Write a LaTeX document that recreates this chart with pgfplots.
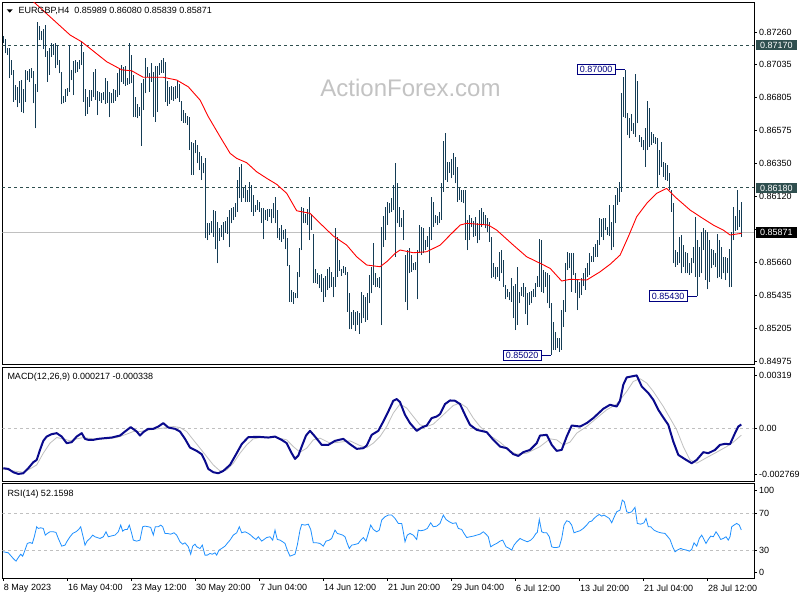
\documentclass[border=0pt]{standalone}
\usepackage{pgfplots}
\pgfplotsset{compat=1.18}
\usepackage{fontspec}
\setmainfont{Liberation Sans}
\definecolor{barc}{RGB}{20,60,85}
\definecolor{slate}{RGB}{47,79,79}
\definecolor{navyc}{RGB}{0,0,128}
\definecolor{macdc}{RGB}{10,10,140}
\definecolor{silverc}{RGB}{192,192,192}
\definecolor{rsic}{RGB}{30,144,255}
\definecolor{wmc}{RGB}{195,195,195}
\pgfplotsset{
  panel/.style={
    scale only axis, width=751.7pt,
    xmin=-0.5, xmax=375.35,
    axis line style={line width=1pt, black},
    tick align=outside, major tick length=2.5pt,
    tick style={black, line width=0.8pt},
    ytick pos=right, yticklabel pos=right,
    yticklabel style={anchor=west, inner sep=0pt, xshift=2.5pt},
    tick label style={font=\fontsize{9}{10}\selectfont, text=black},
    scaled y ticks=false,
    clip mode=individual,
  },
}
\tikzset{
  boxlab/.style={draw=navyc, text=navyc, fill=white, line width=0.8pt, inner xsep=2.5pt, inner ysep=2pt, text height=6.5pt, text depth=0pt, font=\fontsize{9}{10}\selectfont},
  hilab/.style={text=white, anchor=west, xshift=2pt, inner xsep=4pt, inner ysep=2pt, text height=6.5pt, text depth=0pt, font=\fontsize{9}{10}\selectfont},
}
\begin{document}
\fontsize{9}{10}\selectfont
\begin{tikzpicture}
\path[use as bounding box] (0,0) rectangle (800pt,600pt);
\fill[white] (0,0) rectangle (800pt,600pt);
\node[anchor=base, text=wmc, font=\fontsize{24}{24}\selectfont, inner sep=0pt] at (410.5pt,503pt) {ActionForex.com};

% ---------------- main price panel ----------------
\begin{axis}[panel, at={(2.3pt,235pt)}, anchor=south west, height=362pt,
  ymin=0.84952, ymax=0.87461, xtick=\empty,
  ytick={0.84975,0.85205,0.85435,0.8566,0.8589,0.8612,0.8635,0.86575,0.86805,0.87035,0.8726},
  yticklabels={0.84975,0.85205,0.85435,0.85660,{},0.86120,0.86350,0.86575,0.86805,0.87035,0.87260}]
\addplot[slate, dash pattern=on 3pt off 3pt, line width=0.8pt] coordinates {(-0.5,0.8717) (375.35,0.8717)};
\addplot[slate, dash pattern=on 3pt off 3pt, line width=0.8pt] coordinates {(-0.5,0.8618) (375.35,0.8618)};
\addplot[silverc, line width=0.8pt] coordinates {(-0.5,0.85871) (375.35,0.85871)};
\addplot[draw=none, mark=none,
  error bars/.cd, y dir=plus, y explicit, error mark=none,
  error bar style={draw=barc, line width=1pt, solid}]
  table[x expr=\coordindex, y=l, y error plus expr=\thisrow{h}-\thisrow{l}] {
h l
0.87232 0.87181
0.87209 0.87112
0.87146 0.87100
0.87151 0.86938
0.87066 0.86962
0.86996 0.86777
0.86892 0.86788
0.86881 0.86737
0.86922 0.86765
0.86927 0.86707
0.86862 0.86696
0.86996 0.86777
0.86992 0.86927
0.87001 0.86915
0.87008 0.86938
0.86992 0.86765
0.86899 0.86592
0.87331 0.86846
0.87301 0.87204
0.87269 0.87204
0.87278 0.87139
0.87308 0.87089
0.87130 0.86915
0.87146 0.86962
0.87181 0.87089
0.87176 0.87100
0.87181 0.87008
0.87169 0.87031
0.87066 0.86973
0.86985 0.86758
0.86816 0.86765
0.86862 0.86777
0.86869 0.86816
0.87169 0.86846
0.86996 0.86927
0.87061 0.86823
0.87066 0.86973
0.87054 0.86985
0.87066 0.87001
0.87197 0.87031
0.87123 0.86777
0.86862 0.86677
0.86807 0.86691
0.86858 0.86742
0.86858 0.86784
0.86985 0.86807
0.87001 0.86788
0.86853 0.86684
0.86846 0.86784
0.86839 0.86770
0.86846 0.86788
0.86938 0.86761
0.86922 0.86770
0.86846 0.86668
0.86839 0.86765
0.86862 0.86770
0.86858 0.86784
0.86978 0.86807
0.87008 0.86823
0.87031 0.86915
0.87015 0.86899
0.87024 0.86885
0.86938 0.86892
0.87181 0.86899
0.87100 0.86904
0.86962 0.86668
0.86807 0.86668
0.86761 0.86661
0.86742 0.86677
0.86904 0.86470
0.86932 0.86719
0.87077 0.86835
0.87015 0.86945
0.86973 0.86846
0.87042 0.86915
0.86985 0.86673
0.87024 0.86638
0.87024 0.86707
0.87042 0.86962
0.87066 0.86978
0.87077 0.86978
0.87054 0.86777
0.86922 0.86749
0.86876 0.86761
0.86885 0.86788
0.86881 0.86784
0.86885 0.86793
0.86927 0.86800
0.86899 0.86777
0.86784 0.86645
0.86719 0.86631
0.86696 0.86627
0.86677 0.86615
0.86668 0.86442
0.86500 0.86269
0.86493 0.86269
0.86511 0.86419
0.86476 0.86349
0.86430 0.86303
0.86400 0.86234
0.86349 0.86280
0.86384 0.85830
0.85934 0.85818
0.85934 0.85853
0.85952 0.85869
0.86026 0.85841
0.86021 0.85753
0.85945 0.85656
0.85899 0.85813
0.85922 0.85841
0.85945 0.85818
0.85952 0.85869
0.85980 0.85860
0.86026 0.85767
0.86038 0.85934
0.86049 0.85957
0.86072 0.85980
0.86234 0.86015
0.86326 0.86107
0.86345 0.86084
0.86176 0.86107
0.86199 0.86084
0.86165 0.86084
0.86222 0.86084
0.86199 0.86015
0.86130 0.85984
0.86061 0.86015
0.86095 0.86026
0.86084 0.86015
0.86038 0.85938
0.86038 0.85823
0.86026 0.85957
0.86031 0.85952
0.86031 0.85980
0.86031 0.85934
0.86077 0.85968
0.86118 0.85934
0.86026 0.85830
0.85899 0.85818
0.85922 0.85807
0.85887 0.85823
0.85892 0.85753
0.85830 0.85638
0.85645 0.85391
0.85472 0.85391
0.85460 0.85375
0.85453 0.85414
0.85599 0.85414
0.85760 0.85559
0.86049 0.85749
0.86038 0.85934
0.85998 0.85934
0.86031 0.85922
0.86114 0.85818
0.85998 0.85887
0.85860 0.85518
0.85615 0.85522
0.85587 0.85513
0.85576 0.85483
0.85582 0.85460
0.85552 0.85391
0.85569 0.85421
0.85615 0.85472
0.85629 0.85483
0.85599 0.85495
0.85564 0.85421
0.85899 0.85495
0.85841 0.85564
0.85680 0.85606
0.85615 0.85569
0.85638 0.85587
0.85633 0.85576
0.85599 0.85322
0.85449 0.85199
0.85322 0.85199
0.85333 0.85229
0.85322 0.85190
0.85328 0.85229
0.85315 0.85167
0.85460 0.85241
0.85437 0.85275
0.85425 0.85252
0.85449 0.85264
0.85576 0.85379
0.85633 0.85449
0.85795 0.85506
0.85587 0.85490
0.85557 0.85495
0.85564 0.85483
0.85911 0.85229
0.85984 0.85772
0.86049 0.85818
0.86084 0.85922
0.86072 0.86003
0.86107 0.86015
0.86199 0.86026
0.86349 0.85703
0.86211 0.85934
0.86049 0.85911
0.85968 0.85911
0.86026 0.85818
0.85714 0.85391
0.85749 0.85333
0.85760 0.85587
0.85714 0.85599
0.85656 0.85610
0.85668 0.85610
0.85749 0.85407
0.85922 0.85726
0.85911 0.85714
0.85899 0.85726
0.85818 0.85749
0.85846 0.85772
0.85911 0.85656
0.86114 0.85818
0.86084 0.85911
0.85991 0.85934
0.85984 0.85922
0.86015 0.85934
0.86211 0.85957
0.86507 0.86153
0.86562 0.86234
0.86361 0.86222
0.86361 0.86285
0.86377 0.86245
0.86419 0.86269
0.86396 0.86211
0.86326 0.86084
0.86176 0.86095
0.86165 0.86084
0.86165 0.86072
0.86165 0.85818
0.85957 0.85749
0.85991 0.85818
0.85968 0.85911
0.85952 0.85841
0.85980 0.85846
0.85934 0.85795
0.86026 0.85818
0.86038 0.85911
0.86015 0.85922
0.85991 0.85899
0.85968 0.85876
0.85945 0.85807
0.85841 0.85552
0.85656 0.85564
0.85633 0.85546
0.85633 0.85564
0.85737 0.85536
0.85749 0.85587
0.85680 0.85495
0.85506 0.85407
0.85476 0.85421
0.85460 0.85402
0.85552 0.85391
0.85499 0.85275
0.85513 0.85194
0.85633 0.85229
0.85460 0.85379
0.85490 0.85430
0.85522 0.85425
0.85495 0.85305
0.85449 0.85229
0.85460 0.85368
0.85467 0.85379
0.85476 0.85421
0.85518 0.85425
0.85569 0.85495
0.85823 0.85495
0.85818 0.85460
0.85610 0.85449
0.85599 0.85495
0.85587 0.85379
0.85576 0.85345
0.85379 0.85020
0.85252 0.85056
0.85183 0.85056
0.85137 0.85067
0.85137 0.85044
0.85333 0.85056
0.85402 0.85218
0.85656 0.85322
0.85737 0.85610
0.85726 0.85622
0.85726 0.85460
0.85730 0.85576
0.85587 0.85453
0.85546 0.85333
0.85529 0.85414
0.85552 0.85437
0.85587 0.85499
0.85622 0.85472
0.85656 0.85564
0.85726 0.85576
0.85707 0.85668
0.85772 0.85668
0.85790 0.85703
0.85818 0.85703
0.85968 0.85783
0.85961 0.85841
0.85968 0.85818
0.85968 0.85887
0.85911 0.85853
0.86061 0.85846
0.85945 0.85749
0.86061 0.85767
0.86130 0.85934
0.86176 0.86061
0.86222 0.86084
0.86835 0.86153
0.86950 0.86673
0.87000 0.86661
0.86696 0.86546
0.86661 0.86523
0.86691 0.86576
0.86627 0.86553
0.86969 0.86534
0.86922 0.86627
0.86546 0.86500
0.86534 0.86460
0.86511 0.86442
0.86592 0.86326
0.86784 0.86442
0.86730 0.86465
0.86569 0.86476
0.86553 0.86493
0.86534 0.86483
0.86523 0.86188
0.86442 0.86269
0.86500 0.86326
0.86361 0.86257
0.86349 0.86234
0.86338 0.86229
0.86280 0.86165
0.86165 0.86015
0.86072 0.85656
0.85749 0.85633
0.85737 0.85645
0.85841 0.85656
0.85853 0.85587
0.85783 0.85633
0.85737 0.85587
0.85726 0.85587
0.85656 0.85576
0.85691 0.85587
0.85772 0.85656
0.85980 0.85564
0.85818 0.85430
0.85767 0.85564
0.85876 0.85587
0.85899 0.85749
0.85887 0.85541
0.85876 0.85476
0.85818 0.85529
0.85753 0.85622
0.85749 0.85645
0.85730 0.85629
0.85860 0.85552
0.85818 0.85564
0.85772 0.85546
0.85703 0.85587
0.85698 0.85541
0.85691 0.85587
0.85753 0.85490
0.85876 0.85495
0.86049 0.85818
0.85984 0.85883
0.86165 0.85887
0.86026 0.85911
0.86080 0.85839
};
\addplot[red, line width=0.9pt] table[x=i, y=p] {
i p
0 0.87661
14.2 0.87481
33.4 0.87239
39.2 0.87192
51.7 0.87054
59.2 0.86998
64.2 0.86991
70 0.86946
80 0.86946
86.7 0.86927
92.5 0.86880
98.4 0.86788
102.5 0.86673
108.4 0.86534
113.4 0.86419
116.7 0.86384
121.7 0.86354
126.7 0.86291
131.7 0.86246
136.7 0.86204
141.7 0.86142
146.7 0.86021
153.4 0.86003
158.4 0.85934
165 0.85846
171.7 0.85783
176.7 0.85702
181.7 0.85645
188.4 0.85633
191.7 0.85668
195.9 0.85726
198.4 0.85749
205 0.85730
211.7 0.85737
218.4 0.85783
223.4 0.85853
228.4 0.85922
231.7 0.85934
242.5 0.85922
246.7 0.85887
255 0.85783
261.7 0.85702
268.4 0.85657
273.4 0.85622
279.2 0.85534
283.4 0.85546
291.7 0.85541
298.4 0.85598
303.4 0.85650
308.4 0.85714
312.5 0.85841
316.7 0.85980
321.7 0.86072
326.7 0.86142
331.7 0.86176
336.7 0.86107
343.4 0.86026
348.4 0.85980
355 0.85922
360 0.85887
363.4 0.85853
369.2 0.85865
};
\node[boxlab, anchor=east] at (axis cs:306,0.87000) {0.87000};
\draw[navyc, line width=0.8pt] (axis cs:306,0.87000) -- (axis cs:311,0.87000);
\node[boxlab, anchor=east] at (axis cs:269,0.85020) {0.85020};
\draw[navyc, line width=0.8pt] (axis cs:269,0.85020) -- (axis cs:274,0.85020);
\node[boxlab, anchor=east] at (axis cs:342,0.85430) {0.85430};
\draw[navyc, line width=0.8pt] (axis cs:342,0.85430) -- (axis cs:347,0.85430);
\node[hilab, fill=slate] at (axis cs:375.35,0.8717) {0.87170};
\node[hilab, fill=slate] at (axis cs:375.35,0.8618) {0.86180};
\node[hilab, fill=black] at (axis cs:375.35,0.85871) {0.85871};
\end{axis}

% ---------------- MACD panel ----------------
\begin{axis}[panel, at={(2.3pt,118.3pt)}, anchor=south west, height=114pt,
  ymin=-0.002769, ymax=0.00319, xtick=\empty,
  ytick={-0.002382,0,0.002808}, yticklabels={-0.002769,0.00,0.00319}]
\addplot[silverc, dash pattern=on 3pt off 3pt, line width=0.8pt] coordinates {(-0.5,0) (375.35,0)};
\addplot[silverc, line width=0.8pt] table[x=i, y=v] {
i v
0 -0.002101
5 -0.002206
10 -0.002274
13.35 -0.002101
16.7 -0.001892
20 -0.001279
23.35 -0.000755
26.7 -0.000461
30 -0.000529
33.35 -0.000634
36.7 -0.000529
40 -0.000461
45 -0.000529
51.7 -0.000529
56.7 -0.000461
61.7 -0.000283
65 -0.000147
68.35 -0.000147
73.35 -0.000058
80 0.000031
85 0.000115
88.35 0.000063
91.7 -0.000147
95 -0.000582
98.35 -0.001017
101.7 -0.001457
105 -0.001892
108.35 -0.002206
111.7 -0.002154
115 -0.001803
118.35 -0.001279
121.7 -0.000844
125 -0.000529
130 -0.000440
136.7 -0.000461
141.7 -0.000582
145 -0.000933
148.35 -0.001226
151.7 -0.001017
155 -0.000582
158.35 -0.000493
163.35 -0.000755
168.35 -0.000702
173.35 -0.000634
178.35 -0.000880
181.7 -0.000985
185 -0.000755
188.35 -0.000409
191.7 0.000115
195 0.000817
198.35 0.001289
201.7 0.001079
205 0.000639
208.35 0.000204
211.7 0.000115
215 0.000241
220 0.000728
225 0.001216
228.35 0.001341
231.7 0.001111
235 0.000555
238.35 0.000115
243.35 -0.000356
248.35 -0.000702
253.35 -0.001158
256.7 -0.001331
261.7 -0.001279
268.35 -0.000933
273.35 -0.000529
276.7 -0.000582
280 -0.000844
283.35 -0.000702
286.7 -0.000231
291.7 0.000115
296.7 0.000555
301.7 0.000990
306.7 0.001289
311.7 0.001949
315 0.002473
318.35 0.002615
321.7 0.002389
325 0.001949
330 0.001163
333.35 0.000555
336.7 -0.000058
340 -0.000933
343.35 -0.001630
346.7 -0.001803
351.7 -0.001509
356.7 -0.001226
361.7 -0.000933
365 -0.000702
369 -0.000338
};
\addplot[macdc, line width=2pt, line join=round] table[x=i, y=v] {
i v
0 -0.002065
2.5 -0.002101
5 -0.002274
7.5 -0.002363
10 -0.002327
12.5 -0.002065
15 -0.001750
16.7 -0.001630
18.35 -0.001106
20 -0.000634
21.7 -0.000409
24.2 -0.000283
26.7 -0.000231
29.2 -0.000409
31.7 -0.000755
34.2 -0.000702
36.7 -0.000409
39.2 -0.000231
40.85 -0.000529
42.5 -0.000582
45 -0.000582
47.5 -0.000529
50.85 -0.000493
54.2 -0.000461
58.35 -0.000356
60.85 -0.000147
63.7 0.000084
66.7 -0.000147
68.35 -0.000356
70 -0.000178
72.5 -0.000005
75 -0.000005
77.5 0.000115
80 0.000293
82.5 0.000063
85.85 -0.000005
88.35 -0.000147
90.85 -0.000529
93.35 -0.000985
96.7 -0.001158
99.2 -0.001331
100.85 -0.001682
102.5 -0.002101
105 -0.002274
107.5 -0.002327
110 -0.002206
113.35 -0.001892
116.7 -0.001279
119.2 -0.000807
122.5 -0.000440
127.5 -0.000424
132.5 -0.000461
135.85 -0.000409
139.2 -0.000582
141.7 -0.000755
144.2 -0.001279
145.85 -0.001577
147.5 -0.001404
149.2 -0.000933
151.35 -0.000356
153.35 -0.000110
155.85 -0.000409
159.2 -0.000844
162.5 -0.000844
165.85 -0.000634
170 -0.000529
173.35 -0.000807
176.7 -0.001053
180 -0.001017
181.7 -0.000880
184.2 -0.000320
187.5 -0.000110
190 0.000377
192.5 0.000901
195 0.001462
196.7 0.001551
198.35 0.001394
200.85 0.000728
203.35 0.000293
206.7 -0.000110
209.2 0.000063
211.7 0.000168
214.2 0.000555
216.7 0.000639
218.35 0.000765
220.85 0.001289
223.35 0.001478
225.85 0.001462
228.35 0.001289
230.85 0.000728
233.35 0.000204
236.7 -0.000058
241.7 -0.000178
245 -0.000582
248.35 -0.000933
251.7 -0.001017
255 -0.001331
257.5 -0.001420
260 -0.001226
263.35 -0.001106
266.7 -0.000755
268.35 -0.000356
271.7 -0.000320
274.2 -0.000844
276.7 -0.001158
279.2 -0.001106
281.7 -0.000409
284.2 0.000168
288.35 0.000115
291.7 0.000293
295 0.000555
300 0.001043
303.35 0.001252
306.7 0.001163
308.35 0.001462
310 0.002300
311.7 0.002683
314.2 0.002735
316.7 0.002788
319.2 0.002211
322.5 0.001865
325 0.001514
327.5 0.000990
330 0.000587
332.5 0.000204
335 -0.000671
337.5 -0.001368
340.85 -0.001593
344.2 -0.001803
346.7 -0.001630
350 -0.001226
352.5 -0.001279
355.85 -0.001106
358.35 -0.000844
360.85 -0.000791
363.35 -0.000807
365.85 -0.000231
367.5 0.000115
369 0.000217
};
\end{axis}

% ---------------- RSI panel ----------------
\begin{axis}[panel, at={(2.3pt,21.7pt)}, anchor=south west, height=95pt,
  ymin=0, ymax=102.5,
  ytick={6.5,30,70,95.3}, yticklabels={0,30,70,100},
  xtick pos=bottom,
  xtick={0,32,64,96,128,160,192,224,256,288,320,352},
  xticklabels={8 May 2023,16 May 04:00,23 May 12:00,30 May 20:00,7 Jun 04:00,14 Jun 12:00,21 Jun 20:00,29 Jun 04:00,6 Jul 12:00,13 Jul 20:00,21 Jul 04:00,28 Jul 12:00},
  xticklabel style={anchor=north west, inner sep=0pt, xshift=0.5pt, yshift=-3.5pt}]
\addplot[silverc, dash pattern=on 3pt off 3pt, line width=0.8pt] coordinates {(-0.5,70) (375.35,70)};
\addplot[silverc, dash pattern=on 3pt off 3pt, line width=0.8pt] coordinates {(-0.5,30) (375.35,30)};
\addplot[rsic, line width=0.8pt] table[x=i, y=v] {
i v
0 28.6
2.5 27.5
5 21.3
6.35 18.5
7.5 22.4
8.7 26.0
9.7 23.9
10.85 30.4
12 37.6
13.35 38.6
14.5 37.6
15.5 44.8
16.7 55.6
17.5 53.8
18.7 54.5
20 53.8
21 46.6
22 48.4
23.35 50.2
25 50.2
26.35 49.5
27.5 43.0
29.2 34.7
30.85 35.8
32 40.4
33.35 44.8
34.7 48.4
36.35 50.2
37.7 52.7
38.7 55.6
40 44.0
40.85 35.8
42 40.4
43.35 43.0
44.7 46.6
45.85 44.8
47 44.0
48.35 43.0
50 44.8
51.35 50.2
52.5 44.8
54.2 45.8
55.85 46.6
57.5 50.2
58.7 57.4
59.7 50.9
60.85 52.7
62 52.7
63 57.4
64.2 48.4
65 41.2
66.7 40.1
68.35 41.2
69.7 55.6
70.85 56.3
72.5 55.6
73.7 54.9
75 46.6
76 55.6
77.5 55.6
78.7 57.4
79.7 55.6
80.85 48.4
82 48.4
83.7 47.6
85.35 49.1
86.7 46.6
88.35 39.4
89.7 36.8
90.85 38.3
92.5 34.0
93.7 26.0
94.7 34.7
95.85 36.8
96.7 34.0
98.35 32.2
99.5 35.8
100.85 25.0
102 25.0
103.35 26.8
104.5 26.0
105.85 27.5
106.7 25.0
107.85 30.4
109.2 32.2
110.85 34.7
112.2 38.3
113.35 41.2
115 46.6
116.7 49.1
118 55.6
119.2 49.1
120.85 50.2
122.5 48.4
123.7 46.6
125 44.0
126.35 41.9
127.5 44.8
129.2 40.1
130.35 41.9
131.7 44.0
133.35 44.8
134.7 41.2
135.85 52.0
137 41.9
138.35 41.2
139.7 39.4
140.85 37.6
142 30.4
143.35 23.9
144.7 25.0
145.85 26.0
147 35.8
148.35 52.0
149.2 58.1
150.85 57.4
152.5 58.4
153.7 52.7
155 38.3
156.7 38.3
158.35 37.6
160 34.7
161.35 40.1
163 41.2
164.2 43.0
165.85 52.0
167 48.4
168.35 47.6
169.7 46.6
170.85 44.8
172 37.6
173 32.2
174.2 35.8
175.85 36.5
177.5 37.6
178.7 41.2
180 44.0
181.35 40.1
182.5 48.4
183.7 57.4
185 52.7
186.7 50.2
188 52.0
189.2 62.8
190.85 66.4
192.5 68.2
194.2 68.2
195.85 64.6
197.5 59.2
199.2 59.2
200 50.2
200.85 39.4
202 46.6
203.35 48.4
205 46.6
206.7 41.9
207.5 52.0
208.7 51.3
210.35 52.0
212 53.8
213.7 59.9
215 55.6
216.7 56.3
218.35 59.2
220 68.2
221.35 63.5
223 61.0
224.7 59.2
226.35 59.9
227.5 53.8
229.2 52.7
230.35 48.4
231.7 44.0
233.35 44.8
235 45.5
236.7 46.6
238.35 47.6
240 50.2
241.35 47.6
242.5 44.8
243.7 34.0
245 35.8
246.7 37.6
248.35 40.1
249.7 41.2
251.35 34.0
253 32.2
254.2 30.4
255.35 35.8
256.7 39.4
258.35 43.0
260 41.2
262 39.4
263.7 41.2
265 44.0
266.35 48.4
267 49.5
268 63.5
269.2 50.2
270.35 49.1
271.7 49.1
273 44.8
274.2 34.0
275.35 33.2
276.7 33.2
278 34.0
279.2 43.0
280.35 57.4
281.7 62.1
283 61.0
284.2 57.4
285.35 49.1
286.7 50.2
288.35 51.3
290 53.8
291.7 57.4
293 61.0
294.2 61.7
295.35 64.6
296.7 67.1
298 68.9
299.2 67.1
300.35 68.2
301.7 66.4
303 64.6
304.2 59.9
305.35 65.7
306.7 71.8
308.35 73.6
309.5 84.4
310.5 82.6
311.7 71.8
313 70.7
314.2 71.8
315.85 76.5
317 59.2
318.7 58.4
320.35 59.9
321.35 64.6
322.5 55.6
323.7 55.6
325.35 52.0
327 50.2
328.7 49.1
330.85 48.4
332 45.5
333.35 41.9
334.7 34.0
335.85 28.6
337 30.4
338.7 32.2
340 31.1
341.7 30.4
343 29.3
344.2 31.1
345.35 38.3
346.7 34.7
348 43.0
349.2 46.6
350.35 41.9
351.35 37.6
352.5 41.9
353.7 45.5
355 44.8
356.35 50.2
357.5 46.6
358.7 41.9
360 43.0
361.35 44.8
362.5 41.2
363.35 44.8
364.2 55.6
365.35 57.4
366.7 59.2
368 57.4
369 52.16
};
\end{axis}

% panel titles
\fill[black] (6.7pt,590.7pt) -- (12.7pt,590.7pt) -- (9.7pt,587.3pt) -- cycle;
\node[anchor=base west, inner sep=0pt] at (18.3pt,586pt) {EURGBP,H4\ \ 0.85989 0.86080 0.85839 0.85871};
\node[anchor=base west, inner sep=0pt] at (7.3pt,220pt) {MACD(12,26,9) 0.000217 -0.000338};
\node[anchor=base west, inner sep=0pt] at (7.3pt,104pt) {RSI(14) 52.1598};
\end{tikzpicture}
\end{document}
